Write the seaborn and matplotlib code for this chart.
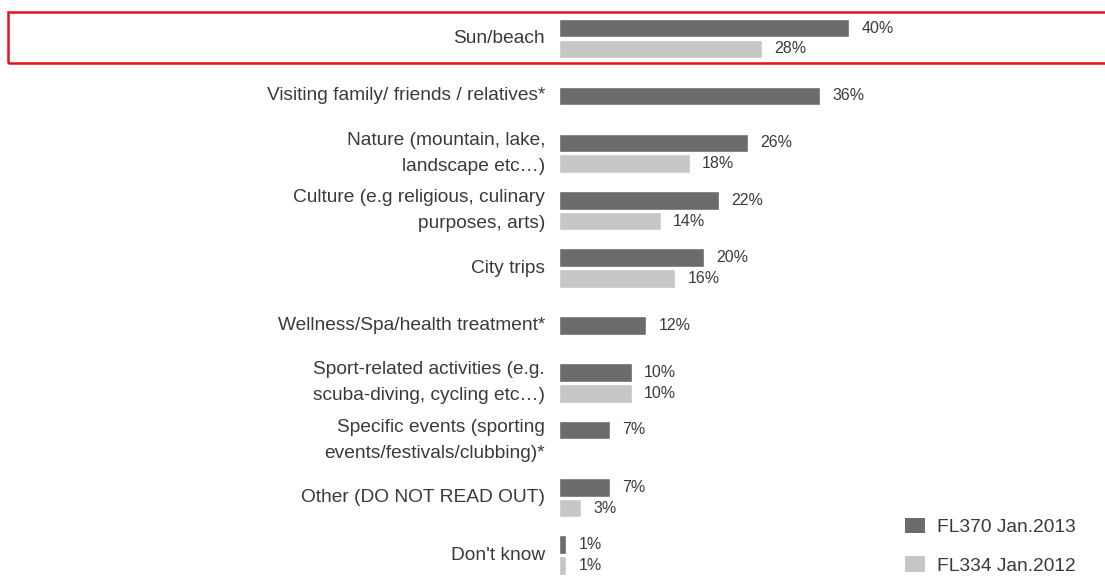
import matplotlib
matplotlib.use('Agg')
import numpy as np
import pandas as pd
import matplotlib.pyplot as plt
import seaborn as sns
from matplotlib.patches import Rectangle, Patch

# data
categories = ['Sun/beach',
              'Visiting family/ friends / relatives*',
              'Nature (mountain, lake,\nlandscape etc\u2026)',
              'Culture (e.g religious, culinary\npurposes, arts)',
              'City trips',
              'Wellness/Spa/health treatment*',
              'Sport-related activities (e.g.\nscuba-diving, cycling etc\u2026)',
              'Specific events (sporting\nevents/festivals/clubbing)*',
              'Other (DO NOT READ OUT)',
              "Don't know"]
fl370 = [40, 36, 26, 22, 20, 12, 10, 7, 7, 1]
fl334 = [28, np.nan, 18, 14, 16, np.nan, 10, np.nan, 3, 1]
series_names = ['FL370 Jan.2013', 'FL334 Jan.2012']

# single bars that sit in the middle of their row
centred = ['Visiting family/ friends / relatives*', 'Wellness/Spa/health treatment*']

dark = '#6b6b6b'
light = '#c6c6c6'
txt = '#3a3a3a'

df = pd.DataFrame({
    'category': categories * 2,
    'series': [series_names[0]] * len(categories) + [series_names[1]] * len(categories),
    'value': fl370 + fl334,
}).dropna()

sns.set_style('white')
plt.rcParams['font.family'] = ['Liberation Sans', 'DejaVu Sans']

fig = plt.figure(figsize=(11.05, 5.76), dpi=100)
ax = fig.add_axes([559 / 1105, 0, 1 - 559 / 1105, 1])

width = 0.72
sns.barplot(data=df, x='value', y='category', hue='series', order=categories,
            hue_order=series_names, palette=[dark, light], saturation=1,
            dodge=True, width=width, gap=0.1, orient='h', legend=False, ax=ax)

# move the lone bars to the middle of their row
for cat, bar in zip(categories, ax.containers[0]):
    if cat in centred:
        bar.set_y(bar.get_y() + width / 4)

for cont, vals in zip(ax.containers, [fl370, [v for v in fl334 if not np.isnan(v)]]):
    ax.bar_label(cont, labels=[f'{v:g}%' for v in vals], padding=9,
                 fontsize=11.5, color=txt)

ax.set_xlim(0, (1105 - 559) / 7.25)
ax.set_ylim((576 - 38.5) / 57.4, -38.5 / 57.4)
ax.set_xlabel('')
ax.set_ylabel('')
ax.set_xticks([])
ax.tick_params(axis='y', length=0, pad=10, labelsize=13.8, labelcolor=txt)
for lab in ax.get_yticklabels():
    lab.set_horizontalalignment('right')
    lab.set_verticalalignment('center')
    lab.set_linespacing(1.7)
sns.despine(ax=ax, left=True, bottom=True)

handles = [Patch(facecolor=dark, edgecolor='none'), Patch(facecolor=light, edgecolor='none')]
fig.legend(handles, series_names, loc='upper left', bbox_to_anchor=(905 / 1105, 1 - 518 / 576),
           frameon=False, fontsize=13.8, labelcolor=txt, handlelength=1.05, handleheight=0.85,
           handletextpad=0.6, labelspacing=1.05, borderaxespad=0, borderpad=0)

# red highlight box around the first row
fig.patches.append(Rectangle((8 / 1105, 1 - 63 / 576), 1.1, (63 - 11.5) / 576,
                             transform=fig.transFigure, fill=False,
                             edgecolor='#e0121a', linewidth=1.8, clip_on=False))

fig.savefig('out.png', dpi=100, facecolor='white')
